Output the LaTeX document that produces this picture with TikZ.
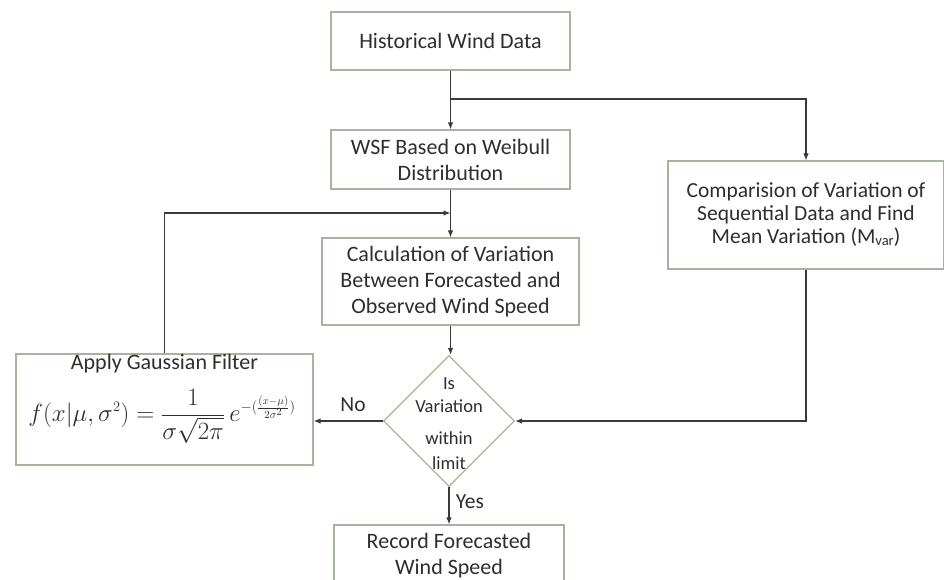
\documentclass[tikz,border=0pt]{standalone}
\usepackage{fontspec}
\setmainfont{Carlito}
\usetikzlibrary{arrows.meta,shapes.geometric}
\DeclareMathSizes{23}{23}{15}{11}
\definecolor{boxline}{HTML}{A8B39C}
\definecolor{arrline}{HTML}{3A3A3A}
\definecolor{txt}{HTML}{2E2E2E}
\begin{document}
\begin{tikzpicture}[x=1pt,y=-1pt,
  box/.style={draw=boxline,line width=1.2pt,fill=white,inner sep=0pt,align=center,text=txt,
    font=\fontsize{22}{26}\selectfont},
  arr/.style={draw=arrline,line width=1.1pt,-{Latex[length=7pt,width=5.5pt]}},
  lbl/.style={text=txt,font=\fontsize{21.5}{23}\selectfont,inner sep=0pt}]
\useasboundingbox (0,0) rectangle (944,579);
\node[box,minimum width=239pt,minimum height=58pt] (box1) at (450.5,41) {Historical Wind Data};
\node[box,minimum width=239pt,minimum height=59pt] (box2) at (450.5,159.5) {WSF Based on Weibull\\Distribution};
\node[box,minimum width=257pt,minimum height=87pt] (box3) at (450.5,281.5) {Calculation of Variation\\Between Forecasted and\\Observed Wind Speed};
\node[box,minimum width=276pt,minimum height=108pt,font=\fontsize{21.5}{23}\selectfont] (comp) at (806,215)
  {Comparision of Variation of\\Sequential Data and Find\\Mean Variation (M\raisebox{-1.5pt}{\fontsize{14.5}{14}\selectfont var})};
\node[diamond,draw=boxline,line width=1.2pt,fill=white,minimum width=131pt,minimum height=131pt,inner sep=0pt] (dia) at (449,421) {};
\node[text=txt,align=center,font=\fontsize{18.5}{23}\selectfont,inner sep=0pt] (diatext) at (449,424) {Is\\Variation\\[9pt]within\\[2pt]limit};
\node[box,minimum width=230pt,minimum height=62pt] (rec) at (449,556) {Record Forecasted\\Wind Speed};
\node[box,minimum width=297pt,minimum height=111pt] (gbox) at (164.5,409.5) {};
\node[text=txt,inner sep=0pt,font=\fontsize{22}{26}\selectfont] (gtitle) at (164.5,364) {Apply Gaussian Filter};
\node[text=txt,inner sep=0pt,font=\fontsize{23}{26}\selectfont] (gform) at (162,416)
  {$\displaystyle f(x|\mu,\sigma^2) = \frac{1}{\sigma\sqrt{2\pi}}\,e^{-(\frac{(x-\mu)}{2\sigma^2})}$};
\coordinate (br) at (450.5,99);
\coordinate (fb) at (450.5,213);
\draw[arr] (box1.south) -- (box2.north);
\draw[arr] (br) -| (comp.north);
\draw[arr] (box2.south) -- (box3.north);
\draw[arr] (gbox.north) |- (fb);
\draw[arr] (box3.south) -- (box3.south |- dia.north);
\draw[arr] (comp.south) |- (dia.east);
\draw[arr] (dia.west) -- (dia.west -| gbox.east);
\draw[arr] (dia.south) -- (rec.north);
\node[lbl] (nolbl) at (353,405) {No};
\node[lbl] (yeslbl) at (470,502) {Yes};
\end{tikzpicture}
\end{document}
